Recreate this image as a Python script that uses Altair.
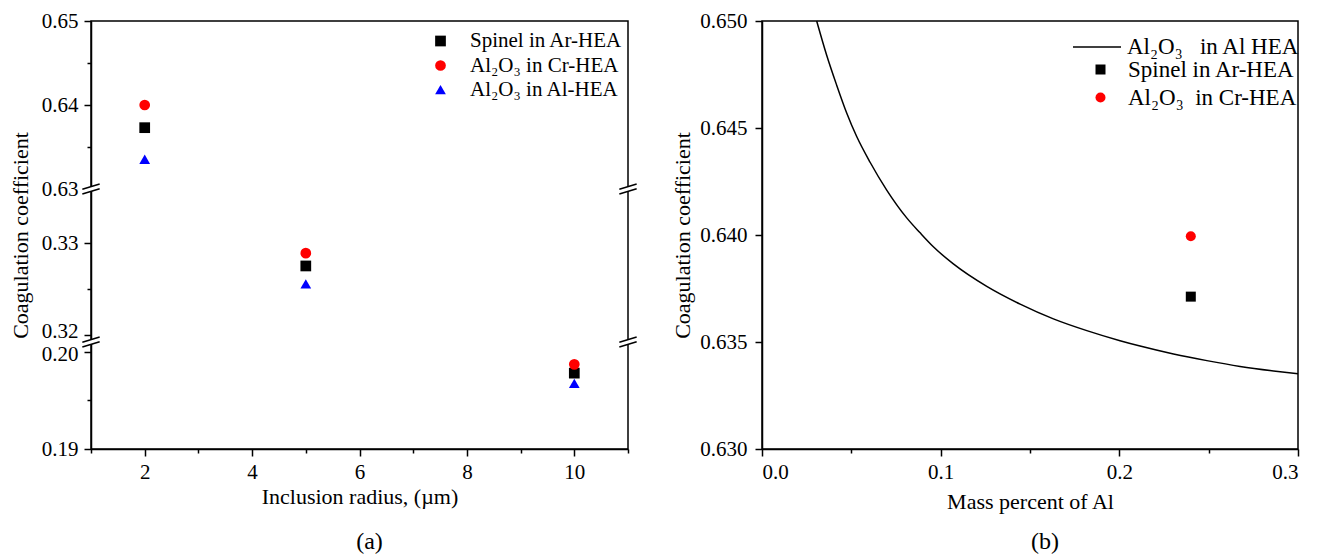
import altair as alt
import pandas as pd

FONT = "Liberation Serif"

# ---------------- Panel (a) data ----------------
radius = [2, 5, 10]
spinel_ar = [0.6373, 0.3275, 0.1978]
al2o3_cr = [0.6400, 0.3289, 0.1987]
al2o3_al = [0.6335, 0.3255, 0.1967]
series_a = ["Spinel in Ar-HEA", "Al₂O₃ in Cr-HEA", "Al₂O₃ in Al-HEA"]

# broken y axis: three segments 0.19-0.20 | 0.32-0.33 | 0.63-0.65
y_domain_a = [0.19, 0.2010, 0.3192, 0.3359, 0.63, 0.65]
y_major_a = [0.19, 0.20, 0.32, 0.33, 0.63, 0.64, 0.65]
y_minor_a = [0.195, 0.325, 0.635, 0.645]
break_y_a = [0.63, 0.2010]
x_ticks_a = [1, 2, 3, 4, 5, 6, 7, 8, 9, 10, 11]

# ---------------- Panel (b) data ----------------
mass_al = [0.0306, 0.0362, 0.0418, 0.0474, 0.0530, 0.0605, 0.0698, 0.0810,
           0.0885, 0.0959, 0.1071, 0.1258, 0.1445, 0.1631, 0.1818, 0.2004,
           0.2116, 0.2303, 0.2490, 0.2676, 0.2863, 0.3000]
coef_al = [0.65000, 0.64840, 0.64700, 0.64570, 0.64460, 0.64340, 0.64210, 0.64080,
           0.64010, 0.63945, 0.63865, 0.63760, 0.63677, 0.63608, 0.63553, 0.63506,
           0.63481, 0.63444, 0.63413, 0.63386, 0.63365, 0.63352]
line_series = "Al₂O₃\u00a0\u00a0 in Al HEA"
point_series_b = ["Spinel in Ar-HEA", "Al₂O₃\u00a0 in Cr-HEA"]
point_x_b = [0.24, 0.24]
point_y_b = [0.63712, 0.63994]
x_ticks_b = [0.0, 0.05, 0.1, 0.15, 0.2, 0.25, 0.3]
x_minor_b = [0.05, 0.15, 0.25]
y_ticks_b = [0.630, 0.635, 0.640, 0.645, 0.650]

# ---------------- build tables ----------------
rows = []
for name, vals in zip(series_a, [spinel_ar, al2o3_cr, al2o3_al]):
    for r, v in zip(radius, vals):
        rows.append({"radius": r, "coef": v, "series": name})
df_a = pd.DataFrame(rows)
df_breaks = pd.DataFrame([{"radius": xx, "coef": yy}
                          for yy in break_y_a for xx in [x_ticks_a[0], x_ticks_a[-1]]])

df_line = pd.DataFrame({"mass": mass_al, "coef": coef_al, "series": line_series})
df_pts = pd.DataFrame({"mass": point_x_b, "coef": point_y_b, "series": point_series_b})

W, H = 537, 428
y_range_a = [H, 321, 321, 168, 168, 0]
TRI = "M0,-0.95L1,0.8L-1,0.8Z"

minor_test_a = f"indexof({y_minor_a}, datum.value) >= 0"
x_a = alt.X("radius:Q",
            scale=alt.Scale(domain=[1, 11], nice=False, zero=False),
            axis=alt.Axis(values=x_ticks_a, title="Inclusion radius, (µm)", titlePadding=4,
                          labelExpr="datum.value % 2 === 0 ? datum.label : ''",
                          tickSize={"condition": {"test": "datum.value % 2 === 1", "value": 4}, "value": 7}))
y_a = alt.Y("coef:Q",
            scale=alt.Scale(domain=y_domain_a, range=y_range_a, nice=False, zero=False),
            axis=alt.Axis(values=y_major_a + y_minor_a, title="Coagulation coefficient",
                          labelOverlap=False, labelPadding=6,
                          labelOffset={"condition": [{"test": "datum.value === 0.32", "value": -3},
                                                     {"test": "datum.value === 0.2", "value": 3}],
                                       "value": 0},
                          labelExpr=f"{minor_test_a} ? '' : format(datum.value, '.2f')",
                          tickSize={"condition": {"test": minor_test_a, "value": 4}, "value": 7}))

leg_a = alt.Legend(title=None, orient="none", legendX=339, legendY=9.5, labelFontSize=21,
                   labelOffset=19, rowPadding=2.5, symbolSize=115, padding=0, labelLimit=400)
points_a = alt.Chart(df_a).mark_point(filled=True, opacity=1, size=115).encode(
    x=x_a, y=y_a,
    color=alt.Color("series:N", scale=alt.Scale(domain=series_a, range=["black", "red", "blue"]), legend=leg_a),
    shape=alt.Shape("series:N", scale=alt.Scale(domain=series_a, range=["square", "circle", TRI]), legend=leg_a),
)
break_white_a = alt.Chart(df_breaks).mark_point(
    shape="M-1,0.02L1,-0.58L1,-0.02L-1,0.58Z", filled=True, fill="white", strokeWidth=0,
    size=300, opacity=1).encode(x=x_a, y=y_a)
break_lines_a = alt.Chart(df_breaks).mark_point(
    shape="M-1,0.02L1,-0.58M-1,0.58L1,-0.02", filled=False, stroke="black", strokeWidth=1.5,
    size=300, opacity=1).encode(x=x_a, y=y_a)

chart_a = alt.layer(points_a, break_white_a, break_lines_a).properties(
    width=W, height=H,
    title=alt.Title("(a)", orient="bottom", fontSize=24, font=FONT, fontWeight="normal",
                    offset=23, dx=10, color="black"))

# ---------------- Panel (b) ----------------
minor_test_b = f"indexof({x_minor_b}, datum.value) >= 0"
x_b = alt.X("mass:Q", scale=alt.Scale(domain=[0, 0.3], nice=False, zero=False),
            axis=alt.Axis(values=x_ticks_b, title="Mass percent of Al",
                          labelExpr=f"{minor_test_b} ? '' : format(datum.value, '.1f')",
                          tickSize={"condition": {"test": minor_test_b, "value": 4}, "value": 7}))
y_b = alt.Y("coef:Q", scale=alt.Scale(domain=[0.630, 0.650], nice=False, zero=False),
            axis=alt.Axis(values=y_ticks_b, format=".3f", title="Coagulation coefficient",
                          tickSize=7, labelPadding=8, titlePadding=5))

line_b = alt.Chart(df_line).mark_line(strokeWidth=1.5, interpolate="monotone").encode(
    x=x_b, y=y_b,
    color=alt.Color("series:N", scale=alt.Scale(domain=[line_series], range=["black"]),
                    legend=alt.Legend(title=None, orient="none", legendX=310, legendY=1,
                                      symbolType="stroke", symbolSize=2304, symbolStrokeWidth=1.5,
                                      labelFontSize=23, labelOffset=5, padding=0, labelLimit=400)))
leg_b = alt.Legend(title=None, orient="none", legendX=327, legendY=37, labelFontSize=23,
                   labelOffset=16, rowPadding=4, symbolSize=100, padding=0, labelLimit=400)
points_b = alt.Chart(df_pts).mark_point(filled=True, opacity=1, size=100).encode(
    x=x_b, y=y_b,
    color=alt.Color("series:N", scale=alt.Scale(domain=point_series_b, range=["black", "red"]), legend=leg_b),
    shape=alt.Shape("series:N", scale=alt.Scale(domain=point_series_b, range=["square", "circle"]), legend=leg_b),
)
chart_b = alt.layer(line_b, points_b).resolve_scale(color="independent", shape="independent").properties(
    width=536, height=H,
    title=alt.Title("(b)", orient="bottom", fontSize=24, font=FONT, fontWeight="normal",
                    offset=18, dx=15, color="black"))

chart = alt.hconcat(chart_a, chart_b, spacing=30).properties(
    padding={"left": 8, "top": 9, "right": 5, "bottom": 5},
    background="white",
).configure_view(stroke="black", strokeWidth=1.5).configure_axis(
    grid=False, domainColor="black", domainWidth=1.5, tickColor="black", tickWidth=1.5,
    labelFont=FONT, labelFontSize=21, labelColor="black", labelPadding=5,
    titleFont=FONT, titleFontSize=22, titleFontWeight="normal", titleColor="black", titlePadding=9,
).configure_legend(labelFont=FONT, labelColor="black")

chart.save("out.html", embed_options={"renderer": "svg", "actions": False})
